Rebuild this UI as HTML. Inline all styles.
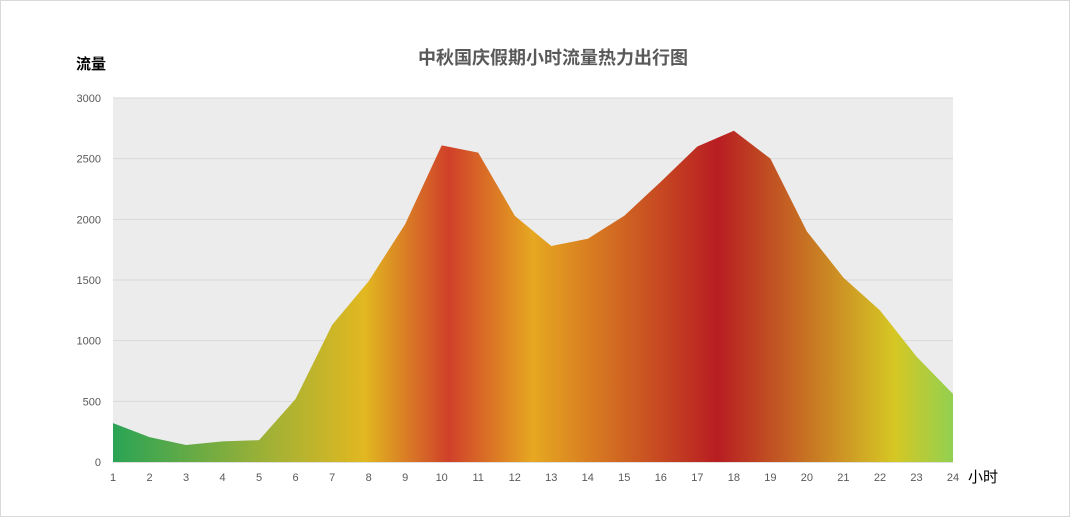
<!DOCTYPE html>
<html><head><meta charset="utf-8"><style>
body{margin:0;background:#fff;}
svg{display:block;font-family:"Liberation Sans","Noto Sans CJK SC",sans-serif;}
</style></head><body>
<svg id="chart" width="1070" height="517">
<defs>
<linearGradient id="heat" x1="113" x2="953" y1="0" y2="0" gradientUnits="userSpaceOnUse">
<stop offset="0" stop-color="#2aa455"/>
<stop offset="0.2" stop-color="#a9b233"/>
<stop offset="0.3" stop-color="#e2b820"/>
<stop offset="0.4" stop-color="#d0402a"/>
<stop offset="0.5" stop-color="#e6a821"/>
<stop offset="0.72" stop-color="#b81d22"/>
<stop offset="0.93" stop-color="#d6c724"/>
<stop offset="1" stop-color="#92d050"/>
</linearGradient>
</defs>
<rect x="0.5" y="0.5" width="1069" height="516" fill="#fff" stroke="#d9d9d9"/>
<rect x="113" y="98" width="840" height="364" fill="#ececec"/>
<g id="grid"></g>
<path id="area" fill="url(#heat)"/>
<g id="labels"></g>
<text x="553" y="64" text-anchor="middle" font-size="18" font-weight="bold" fill="#595959">中秋国庆假期小时流量热力出行图</text>
<text x="76" y="69" font-size="15" font-weight="bold" fill="#000">流量</text>
<text x="968" y="482" font-size="15" fill="#000">小时</text>
</svg>
<script>
const hours=[1,2,3,4,5,6,7,8,9,10,11,12,13,14,15,16,17,18,19,20,21,22,23,24];
const traffic=[320,205,140,170,180,520,1130,1490,1960,2610,2550,2030,1780,1840,2030,2310,2600,2730,2500,1900,1520,1250,870,560];
const yTicks=[0,500,1000,1500,2000,2500,3000];
const X0=113,X1=953,Y0=462,Y1=98,YMAX=3000;
const x=i=>X0+(X1-X0)*i/(hours.length-1);
const y=v=>Y0-(Y0-Y1)*v/YMAX;
const ns="http://www.w3.org/2000/svg";
const grid=document.getElementById('grid'),labels=document.getElementById('labels');
yTicks.forEach(t=>{
 const l=document.createElementNS(ns,'line');
 l.setAttribute('x1',X0);l.setAttribute('x2',X1);l.setAttribute('y1',y(t));l.setAttribute('y2',y(t));
 l.setAttribute('stroke',t===0?'#bfbfbf':'#d9d9d9');
 
 
 grid.appendChild(l);
 const tx=document.createElementNS(ns,'text');
 tx.setAttribute('x',101);tx.setAttribute('y',y(t)+4);tx.setAttribute('text-anchor','end');
 tx.setAttribute('font-size','11');tx.setAttribute('fill','#595959');tx.textContent=t;
 
 
 labels.appendChild(tx);
});
hours.forEach((h,i)=>{
 const tx=document.createElementNS(ns,'text');
 tx.setAttribute('x',x(i));tx.setAttribute('y',481);tx.setAttribute('text-anchor','middle');
 tx.setAttribute('font-size','11');tx.setAttribute('fill','#595959');tx.textContent=h;
 
 
 labels.appendChild(tx);
});
let d='M'+x(0)+','+Y0;
traffic.forEach((v,i)=>{d+=' L'+x(i)+','+y(v);});
d+=' L'+x(traffic.length-1)+','+Y0+' Z';
document.getElementById('area').setAttribute('d',d);
</script>
</body></html>
